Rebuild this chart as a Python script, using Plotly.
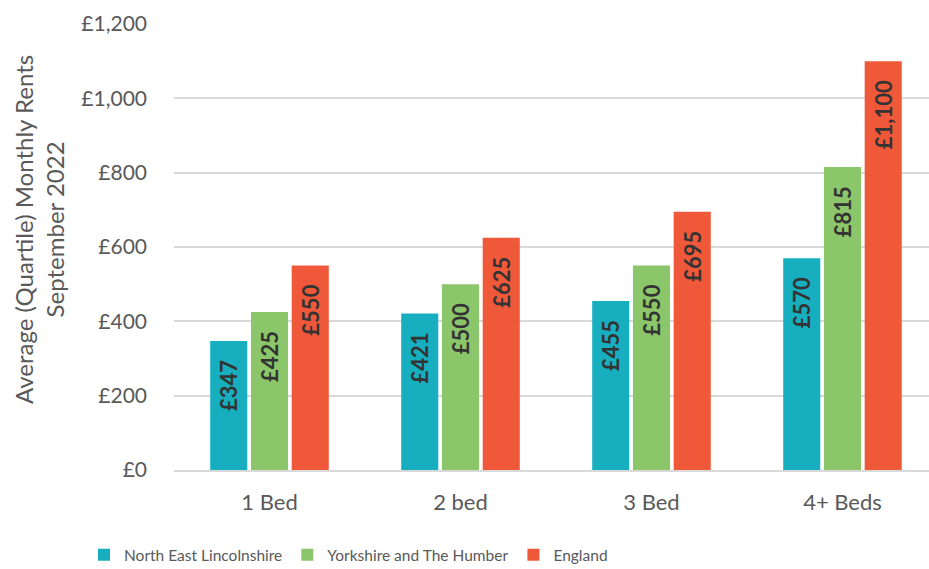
import plotly.graph_objects as go

categories = ["1 Bed", "2 bed", "3 Bed", "4+ Beds"]
series_names = ["North East Lincolnshire", "Yorkshire and The Humber", "England"]
nel_values = [347, 421, 455, 570]
yh_values = [425, 500, 550, 815]
eng_values = [550, 625, 695, 1100]
colors = ["#17AFBF", "#8CC66A", "#F0583A"]
y_tickvals = [0, 200, 400, 600, 800, 1000, 1200]
y_title = "Average (Quartile) Monthly Rents<br>September 2022"

FONT = "Lato"
PAD = "\u00a0" * 3

fig = go.Figure()
for name, vals, col in zip(series_names, [nel_values, yh_values, eng_values], colors):
    fig.add_trace(go.Bar(
        x=categories, y=vals, name=name,
        marker=dict(color=col, line=dict(width=0)),
        text=[f"£{v:,}{PAD}" for v in vals],
        textposition="inside", insidetextanchor="end", textangle=-90,
        insidetextfont=dict(family=FONT, size=22, color="#333333", weight="bold"),
        cliponaxis=False,
    ))

L, R, T, B = 174, 0, 24, 99
W, H = 929, 569
pw = W - L - R
ph = H - T - B

fig.update_layout(
    width=W, height=H,
    margin=dict(l=L, r=R, t=T, b=B, autoexpand=False),
    paper_bgcolor="white", plot_bgcolor="white",
    barmode="group", bargap=0.36, bargroupgap=0.09,
    font=dict(family=FONT, color="#595959", size=17),
    showlegend=True,
    legend=dict(orientation="h", x=(84 - L) / pw, xanchor="left", xref="paper",
                y=-0.153, yanchor="top", font=dict(size=15.5, color="#595959"),
                itemwidth=30, traceorder="normal"),
    uniformtext=dict(minsize=22, mode="show"),
    annotations=[dict(text=y_title, textangle=-90, x=(39 - L) / pw, y=(H - B - 230) / ph,
                      xref="paper", yref="paper", xanchor="center", yanchor="middle",
                      showarrow=False, font=dict(size=24, color="#595959"))],
)
fig.update_xaxes(range=[-0.5, 3.453], showgrid=False, showline=True, linecolor="#D9D9D9",
                 linewidth=2, ticks="", ticklabelstandoff=12, automargin=False,
                 tickfont=dict(size=22, color="#595959"))
fig.update_yaxes(range=[0, 1200], tickvals=y_tickvals,
                 ticktext=[f"£{v:,}" for v in y_tickvals],
                 showgrid=True, gridcolor="#D9D9D9", gridwidth=2, zeroline=False,
                 showline=False, ticks="", ticklabelstandoff=26, automargin=False,
                 tickfont=dict(size=21, color="#595959"))
fig.write_html("out.html")
